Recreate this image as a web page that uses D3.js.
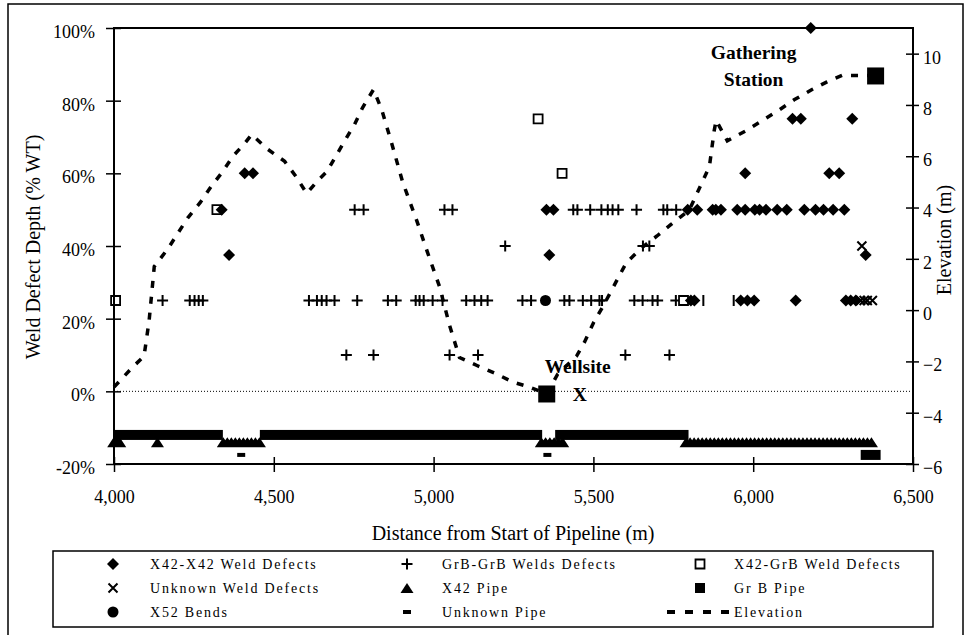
<!DOCTYPE html>
<html>
<head>
<meta charset="utf-8">
<script src="https://cdn.jsdelivr.net/npm/d3@7"></script>
<style>
  html, body { margin: 0; padding: 0; background: #fff; }
  svg { display: block; font-family: "Liberation Serif", "Times New Roman", serif; }
</style>
</head>
<body>
<svg id="chart" width="968" height="635"></svg>
<script>
// ---- Axis ticks ----
const distanceTicks = [4000, 4500, 5000, 5500, 6000, 6500];
const depthTicks = [-20, 0, 20, 40, 60, 80, 100];
const elevationTicks = [-6, -4, -2, 0, 2, 4, 6, 8, 10];

// ---- Weld defects: [distance (m), depth (% WT)] ----
const x42x42Defects = [
  [4337, 50], [4360, 37.5], [4409, 60], [4435, 60],
  [5353, 50], [5375, 50], [5362, 37.5],
  [5795, 50], [5825, 50], [5873, 50], [5883, 50], [5899, 50],
  [5950, 50], [5975, 50], [6005, 50], [6020, 50], [6040, 50], [6075, 50], [6105, 50],
  [6160, 50], [6195, 50], [6220, 50], [6250, 50], [6285, 50],
  [5975, 60], [6238, 60], [6269, 60],
  [6123, 75], [6149, 75], [6310, 75],
  [6180, 100],
  [6352, 37.5],
  [5805, 25], [5816, 25], [5961, 25], [5982, 25], [6003, 25], [6133, 25],
  [6290, 25], [6305, 25], [6321, 25]
];
const grbGrbDefects = [
  [4753, 50], [4781, 50], [5034, 50], [5059, 50],
  [5437, 50], [5450, 50], [5490, 50], [5525, 50], [5545, 50], [5560, 50], [5578, 50],
  [5635, 50], [5719, 50], [5731, 50], [5759, 50],
  [5224, 40], [5655, 40], [5675, 40],
  [4152, 25], [4237, 25], [4252, 25], [4265, 25], [4278, 25],
  [4610, 25], [4635, 25], [4650, 25], [4665, 25], [4690, 25], [4761, 25],
  [4857, 25], [4883, 25], [4944, 25], [4956, 25], [4969, 25], [4997, 25], [5028, 25],
  [5102, 25], [5128, 25], [5149, 25], [5169, 25], [5278, 25], [5305, 25],
  [5409, 25], [5425, 25], [5467, 25], [5493, 25], [5519, 25], [5527, 25],
  [5628, 25], [5654, 25], [5685, 25], [5701, 25], [5758, 25], [5785, 25],
  [4727, 10], [4812, 10], [5050, 10], [5139, 10], [5600, 10], [5738, 10]
];
const x42GrbDefects = [[4005, 25], [4322, 50], [5327, 75], [5402, 60], [5782, 25]];
const unknownDefects = [[6340, 40], [6336, 25], [6347, 25], [6357, 25], [6373, 25]];
const otherWeldMarks = [[5844, 25], [5939, 25]];
const x52Bends = [[5350, 25]];

// ---- Pipe runs: [from (m), to (m), plotted level (%)] ----
const grBPipeRuns = [[4018, 4325, -12], [4472, 5324, -12], [5396, 5782, -12], [6352, 6383, -17.5]];
const x42PipeRuns = [[3999, 4018, -14], [4136, 4136, -14], [4342, 4455, -14], [5337, 5404, -14], [5790, 6370, -14]];
const unknownPipe = [[4398, -17.5], [5356, -17.5]];

// ---- Ground elevation along the line: [distance (m), elevation (m)] ----
const elevation = [
  [4000, -3.0], [4060, -2.2], [4094, -1.8], [4110, -0.4], [4126, 1.7], [4169, 2.4],
  [4231, 3.6], [4270, 4.2], [4303, 4.8], [4340, 5.4], [4372, 6.0], [4409, 6.5], [4431, 6.85],
  [4478, 6.3], [4534, 5.8], [4570, 5.2], [4603, 4.55], [4634, 5.0], [4666, 5.4],
  [4722, 6.6], [4753, 7.25], [4778, 7.9], [4812, 8.6], [4838, 7.8], [4869, 6.5],
  [4903, 5.0], [4947, 3.5], [4981, 2.25], [5019, 0.9], [5050, -0.6], [5081, -1.85],
  [5134, -2.15], [5190, -2.45], [5247, -2.8], [5300, -3.0], [5354, -3.27],
  [5388, -2.5], [5447, -1.8], [5472, -1.25], [5500, -0.5], [5528, 0.1], [5603, 1.85],
  [5653, 2.45], [5700, 2.9], [5744, 3.35], [5800, 3.9], [5863, 5.6], [5878, 7.0],
  [5884, 7.4], [5919, 6.6], [5978, 7.0], [6081, 7.8], [6128, 8.2], [6184, 8.6],
  [6231, 8.9], [6278, 9.15], [6383, 9.15]
];
const sites = [
  { lines: ["Wellsite", "X"], dist: 5354, elev: -3.27 },
  { lines: ["Gathering", "Station"], dist: 6383, elev: 9.13 }
];

const legendItems = [
  ["X42-X42 Weld Defects", "diamond"], ["GrB-GrB Welds Defects", "plus"], ["X42-GrB Weld Defects", "openSquare"],
  ["Unknown Weld Defects", "cross"], ["X42 Pipe", "triangle"], ["Gr B Pipe", "square"],
  ["X52 Bends", "circle"], ["Unknown Pipe", "dash"], ["Elevation", "line"]
];

// ---- Layout ----
const plot = { left: 114, right: 913, top: 28, bottom: 464 };
const svg = d3.select("#chart");

const x = d3.scaleLinear().domain([4000, 6500]).range([plot.left, plot.right]);
const yDepth = d3.scaleLinear().domain([-20, 100]).range([plot.bottom, plot.top]);
const yElev = d3.scaleLinear().domain([-6, 11]).range([plot.bottom, plot.top]);

// outer frame
svg.append("rect").attr("x", 8).attr("y", 4).attr("width", 955).attr("height", 640)
  .attr("fill", "none").attr("stroke", "#000").attr("stroke-width", 1.5);

// zero-depth reference
svg.append("line")
  .attr("x1", plot.left).attr("x2", plot.right)
  .attr("y1", yDepth(0)).attr("y2", yDepth(0))
  .attr("stroke", "#000").attr("stroke-width", 1).attr("stroke-dasharray", "1,2");

// marker shapes
function markerPath(type, cx, cy) {
  switch (type) {
    case "diamond": return `M${cx},${cy - 6}L${cx + 6},${cy}L${cx},${cy + 6}L${cx - 6},${cy}Z`;
    case "plus": return `M${cx - 5.5},${cy}H${cx + 5.5}M${cx},${cy - 5.5}V${cy + 5.5}`;
    case "cross": return `M${cx - 4.5},${cy - 4.5}L${cx + 4.5},${cy + 4.5}M${cx - 4.5},${cy + 4.5}L${cx + 4.5},${cy - 4.5}`;
    case "openSquare": return `M${cx - 4.5},${cy - 4.5}h9v9h-9Z`;
    case "square": return `M${cx - 5},${cy - 5}h10v10h-10Z`;
    case "triangle": return `M${cx},${cy - 5}L${cx + 6.5},${cy + 5}L${cx - 6.5},${cy + 5}Z`;
    case "dash": return `M${cx - 4},${cy - 2}h8v4h-8Z`;
    case "vbar": return `M${cx},${cy - 5.5}V${cy + 5.5}`;
    case "circle": return `M${cx - 5.5},${cy}a5.5,5.5 0 1,0 11,0a5.5,5.5 0 1,0 -11,0Z`;
  }
}
function styleMarker(sel, type) {
  if (type === "plus" || type === "cross" || type === "vbar") {
    sel.attr("fill", "none").attr("stroke", "#000").attr("stroke-width", 2);
  } else if (type === "openSquare") {
    sel.attr("fill", "#fff").attr("stroke", "#000").attr("stroke-width", 1.8);
  } else {
    sel.attr("fill", "#000").attr("stroke", "none");
  }
}
function drawSeries(data, type) {
  const g = svg.append("g");
  g.selectAll("path").data(data).join("path")
    .attr("d", d => markerPath(type, x(d[0]), yDepth(d[1])))
    .call(styleMarker, type);
}

// Gr B pipe: contiguous joint squares form a solid band
svg.append("g").selectAll("rect").data(grBPipeRuns).join("rect")
  .attr("x", d => x(d[0]) - 5)
  .attr("width", d => x(d[1]) - x(d[0]) + 10)
  .attr("y", d => yDepth(d[2]) - 5)
  .attr("height", 10)
  .attr("fill", "#000");

// X42 pipe: overlapping triangles, serrated top
function triangleRun(d) {
  const x0 = x(d[0]), x1 = x(d[1]), cy = yDepth(d[2]);
  const apex = cy - 5, base = cy + 5, half = 6.5;
  const n = Math.max(1, Math.round((x1 - x0) / 4));
  const step = (x1 - x0) / n;
  const dip = (step / 2) * (10 / half);
  let p = `M${x0 - half},${base}L${x0},${apex}`;
  for (let i = 1; i <= n && x1 > x0; i++) {
    p += `L${x0 + (i - 0.5) * step},${apex + Math.min(dip, 3)}L${x0 + i * step},${apex}`;
  }
  p += `L${x1 + half},${base}Z`;
  return p;
}
svg.append("g").selectAll("path").data(x42PipeRuns).join("path")
  .attr("d", triangleRun).attr("fill", "#000");

drawSeries(unknownPipe, "dash");
drawSeries(otherWeldMarks, "vbar");
drawSeries(grbGrbDefects, "plus");
drawSeries(x42GrbDefects, "openSquare");
drawSeries(x42x42Defects, "diamond");
drawSeries(x52Bends, "circle");
drawSeries(unknownDefects, "cross");

// elevation profile
svg.append("path")
  .datum(elevation)
  .attr("d", d3.line().x(d => x(d[0])).y(d => yElev(d[1])))
  .attr("fill", "none").attr("stroke", "#000").attr("stroke-width", 3.5)
  .attr("stroke-dasharray", "7,9");

// site markers and names
const siteG = svg.append("g");
sites.forEach((s, i) => {
  const cx = x(s.dist), cy = yElev(s.elev);
  siteG.append("rect").attr("x", cx - 8.5).attr("y", cy - 8.5)
    .attr("width", 17).attr("height", 17).attr("fill", "#000");
  const t = siteG.append("text").attr("font-weight", "bold").attr("font-size", "19.5px")
    .attr("text-anchor", "middle");
  if (i === 0) {
    t.append("tspan").attr("x", cx + 31).attr("y", cy - 21).text(s.lines[0]);
    t.append("tspan").attr("x", cx + 33).attr("y", cy + 7).text(s.lines[1]);
  } else {
    t.append("tspan").attr("x", cx - 122).attr("y", cy - 16.5).text(s.lines[0]);
    t.append("tspan").attr("x", cx - 122).attr("y", cy + 10).text(s.lines[1]);
  }
});

// plot frame
svg.append("rect").attr("x", plot.left).attr("y", plot.top)
  .attr("width", plot.right - plot.left).attr("height", plot.bottom - plot.top)
  .attr("fill", "none").attr("stroke", "#000").attr("stroke-width", 2);

// axes with ticks crossing the axis line
const tickFont = g => g.selectAll("text").attr("font-size", "18px").attr("fill", "#000")
  .attr("font-family", "Liberation Serif, Times New Roman, serif");

const xAxis = svg.append("g").attr("transform", `translate(0,${plot.bottom})`)
  .call(d3.axisBottom(x).tickValues(distanceTicks).tickFormat(d3.format(",")).tickSize(8).tickPadding(18))
  .call(tickFont);
xAxis.select(".domain").remove();
xAxis.selectAll(".tick line").attr("y1", -7).attr("y2", 8).attr("stroke-width", 1.5);

const yAxisL = svg.append("g").attr("transform", `translate(${plot.left},0)`)
  .call(d3.axisLeft(yDepth).tickValues(depthTicks).tickFormat(d => d + "%").tickSize(8).tickPadding(11))
  .call(tickFont);
yAxisL.select(".domain").remove();
yAxisL.selectAll(".tick line").attr("x1", 7).attr("x2", -8).attr("stroke-width", 1.5);
yAxisL.selectAll(".tick text").attr("dy", "0.52em");

const yAxisR = svg.append("g").attr("transform", `translate(${plot.right},0)`)
  .call(d3.axisRight(yElev).tickValues(elevationTicks).tickSize(6).tickPadding(4))
  .call(tickFont);
yAxisR.select(".domain").remove();
yAxisR.selectAll(".tick line").attr("x1", -7).attr("x2", 6).attr("stroke-width", 1.5);
yAxisR.selectAll(".tick text").attr("dy", "0.52em");

// axis titles
svg.append("text").attr("x", 513).attr("y", 540).attr("text-anchor", "middle")
  .attr("font-size", "20px").text("Distance from Start of Pipeline (m)");
svg.append("text").attr("transform", "translate(40,247) rotate(-90)").attr("text-anchor", "middle")
  .attr("font-size", "20px").text("Weld Defect Depth (% WT)");
svg.append("text").attr("transform", "translate(951,240) rotate(-90)").attr("text-anchor", "middle")
  .attr("font-size", "20px").text("Elevation (m)");

// legend
const legend = svg.append("g");
legend.append("rect").attr("x", 53).attr("y", 551).attr("width", 880).attr("height", 76)
  .attr("fill", "#fff").attr("stroke", "#000").attr("stroke-width", 1.5);
const colMarker = [113, 407, 700], colText = [150, 442, 734], rowY = [564, 588, 612];
legendItems.forEach(([label, type], i) => {
  const c = i % 3, r = Math.floor(i / 3);
  const mx = colMarker[c], my = rowY[r];
  if (type === "line") {
    legend.append("line").attr("x1", 667).attr("x2", 730).attr("y1", my).attr("y2", my)
      .attr("stroke", "#000").attr("stroke-width", 4).attr("stroke-dasharray", "8,10");
  } else {
    legend.append("path").attr("d", markerPath(type, mx, my)).call(styleMarker, type);
  }
  legend.append("text").attr("x", colText[c]).attr("y", my + 5)
    .attr("font-size", "14px").attr("letter-spacing", "1.8px").text(label);
});
</script>
</body>
</html>
